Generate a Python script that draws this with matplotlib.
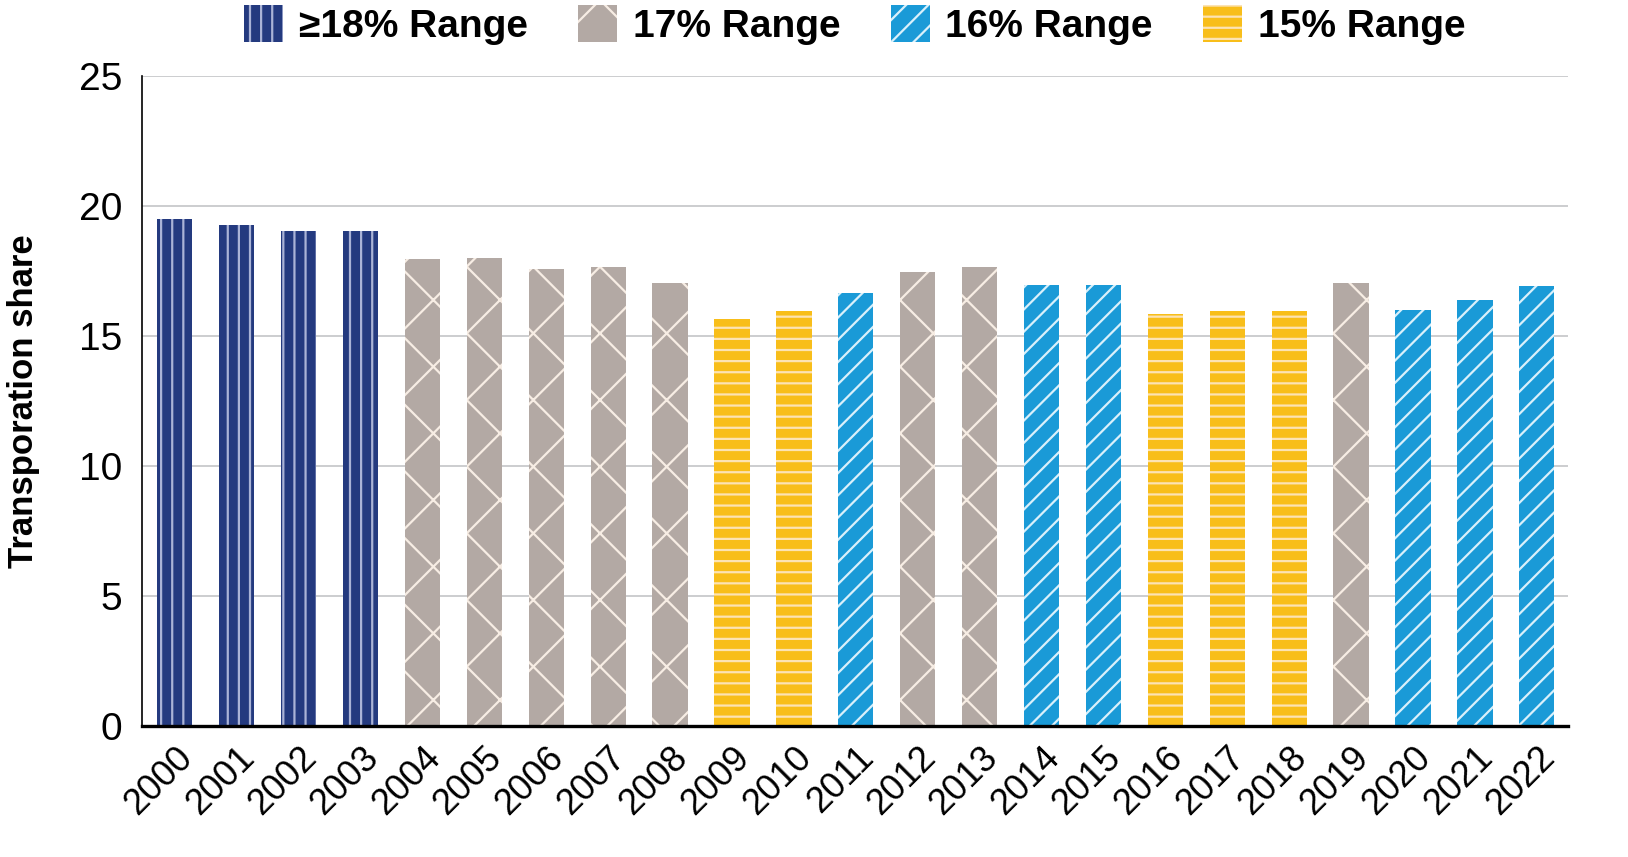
import matplotlib.pyplot as plt
from matplotlib.patches import Patch

# Data
years = [str(y) for y in range(2000, 2023)]
share = [19.5, 19.27, 19.04, 19.04, 17.96, 18.0, 17.58, 17.65, 17.04, 15.65,
         15.96, 16.65, 17.46, 17.65, 16.96, 16.96, 15.85, 15.96, 15.96, 17.04,
         16.0, 16.38, 16.92]
ranges = ['18', '18', '18', '18', '17', '17', '17', '17', '17', '15',
          '15', '16', '17', '17', '16', '16', '15', '15', '15', '17',
          '16', '16', '16']

range_labels = {'18': '≥18% Range', '17': '17% Range', '16': '16% Range', '15': '15% Range'}
fills = {'18': '#243a7f', '17': '#b3a9a4', '16': '#1a9ad7', '15': '#f8be1a'}
hatch_colors = {'18': '#aab3d6', '17': '#f7ede4', '16': '#d9f0fb', '15': '#fce3b4'}
hatches = {'18': '|||', '17': 'x', '16': '///', '15': '---'}

plt.rcParams['font.family'] = ['Liberation Sans Narrow', 'Liberation Sans', 'DejaVu Sans']
plt.rcParams['hatch.linewidth'] = 0.8

fig = plt.figure(figsize=(8.14, 4.285), dpi=200)
ax = fig.add_axes([0.0872, 0.153, 0.8758, 0.7583])

x = range(len(years))
for i in x:
    r = ranges[i]
    ax.bar(i, share[i], width=0.57, color=fills[r], edgecolor=hatch_colors[r],
           hatch=hatches[r], linewidth=0, zorder=2)

ax.set_xlim(-0.53, 22.5)
ax.set_ylim(0, 25)
ax.set_yticks([0, 5, 10, 15, 20, 25])
ax.set_xticks(list(x))
ax.set_xticklabels(years, rotation=45, ha='right', rotation_mode='anchor')
ax.tick_params(axis='y', length=0, labelsize=14, pad=7)
ax.tick_params(axis='x', length=0, labelsize=13, pad=5)
ax.yaxis.grid(True, color='#bfc0c2', linewidth=0.55, zorder=0)
ax.set_axisbelow(True)

for side in ['top', 'right']:
    ax.spines[side].set_visible(False)
ax.spines['left'].set_linewidth(0.6)
ax.spines['left'].set_color('black')
ax.spines['bottom'].set_linewidth(1.2)
ax.spines['bottom'].set_color('black')

ax.set_ylabel('Transporation share', fontsize=12.5, fontweight='bold', labelpad=14)

handles = [Patch(facecolor=fills[k], edgecolor=hatch_colors[k], hatch=hatches[k],
                 linewidth=0, label=range_labels[k]) for k in ['18', '17', '16', '15']]
fig.legend(handles=handles, loc='upper center', bbox_to_anchor=(0.525, 1.035), ncol=4,
           frameon=False, prop={'size': 14, 'weight': 'bold'}, handlelength=1.0,
           handleheight=1.1, handletextpad=0.4, columnspacing=1.3)

plt.savefig('out.png', dpi=200)
